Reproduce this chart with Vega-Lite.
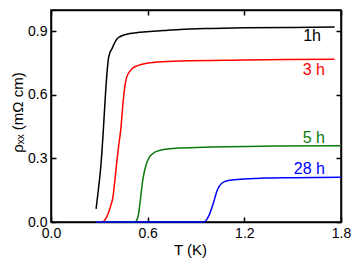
{
  "$schema": "https://vega.github.io/schema/vega-lite/v6.json",
  "width": 290,
  "height": 212,
  "autosize": "none",
  "padding": {"left": 51, "top": 10, "right": 13, "bottom": 37},
  "config": {
    "font": "Liberation Sans",
    "view": {"stroke": "black", "strokeWidth": 1.5},
    "axis": {
      "domainColor": "black",
      "domainWidth": 1.5,
      "ticks": true,
      "tickColor": "black",
      "tickWidth": 1.5,
      "tickSize": -5,
      "grid": false,
      "labelFlush": false,
      "labelFont": "Liberation Sans",
      "labelFontSize": 14,
      "labelColor": "black",
      "titleFont": "Liberation Sans",
      "titleFontSize": 15,
      "titleFontWeight": "normal",
      "titleColor": "black"
    }
  },
  "datasets": {
    "curves": [
      {"s": "1h", "T": 0.28, "rho": 0.062},
      {"s": "1h", "T": 0.294, "rho": 0.152},
      {"s": "1h", "T": 0.311, "rho": 0.278},
      {"s": "1h", "T": 0.325, "rho": 0.436},
      {"s": "1h", "T": 0.34, "rho": 0.626},
      {"s": "1h", "T": 0.356, "rho": 0.768},
      {"s": "1h", "T": 0.366, "rho": 0.8},
      {"s": "1h", "T": 0.377, "rho": 0.815},
      {"s": "1h", "T": 0.391, "rho": 0.839},
      {"s": "1h", "T": 0.408, "rho": 0.862},
      {"s": "1h", "T": 0.43, "rho": 0.875},
      {"s": "1h", "T": 0.47, "rho": 0.886},
      {"s": "1h", "T": 0.53, "rho": 0.893},
      {"s": "1h", "T": 0.594, "rho": 0.897},
      {"s": "1h", "T": 0.7, "rho": 0.903},
      {"s": "1h", "T": 0.8, "rho": 0.908},
      {"s": "1h", "T": 1.0, "rho": 0.913},
      {"s": "1h", "T": 1.2, "rho": 0.916},
      {"s": "1h", "T": 1.5, "rho": 0.918},
      {"s": "1h", "T": 1.76, "rho": 0.92},
      {"s": "3h", "T": 0.28, "rho": 0.0},
      {"s": "3h", "T": 0.32, "rho": 0.0},
      {"s": "3h", "T": 0.335, "rho": 0.01},
      {"s": "3h", "T": 0.355, "rho": 0.04},
      {"s": "3h", "T": 0.37, "rho": 0.075},
      {"s": "3h", "T": 0.385, "rho": 0.12},
      {"s": "3h", "T": 0.397, "rho": 0.2},
      {"s": "3h", "T": 0.408, "rho": 0.28},
      {"s": "3h", "T": 0.42, "rho": 0.36},
      {"s": "3h", "T": 0.433, "rho": 0.436},
      {"s": "3h", "T": 0.449, "rho": 0.578},
      {"s": "3h", "T": 0.466, "rho": 0.673},
      {"s": "3h", "T": 0.49, "rho": 0.712},
      {"s": "3h", "T": 0.511, "rho": 0.728},
      {"s": "3h", "T": 0.542, "rho": 0.739},
      {"s": "3h", "T": 0.594, "rho": 0.749},
      {"s": "3h", "T": 0.719, "rho": 0.757},
      {"s": "3h", "T": 0.8, "rho": 0.76},
      {"s": "3h", "T": 1.2, "rho": 0.764},
      {"s": "3h", "T": 1.76, "rho": 0.768},
      {"s": "5h", "T": 0.28, "rho": 0.0},
      {"s": "5h", "T": 0.52, "rho": 0.0},
      {"s": "5h", "T": 0.54, "rho": 0.025},
      {"s": "5h", "T": 0.557, "rho": 0.12},
      {"s": "5h", "T": 0.57, "rho": 0.2},
      {"s": "5h", "T": 0.594, "rho": 0.278},
      {"s": "5h", "T": 0.61, "rho": 0.305},
      {"s": "5h", "T": 0.625, "rho": 0.318},
      {"s": "5h", "T": 0.677, "rho": 0.338},
      {"s": "5h", "T": 0.8, "rho": 0.349},
      {"s": "5h", "T": 1.0, "rho": 0.354},
      {"s": "5h", "T": 1.4, "rho": 0.358},
      {"s": "5h", "T": 1.8, "rho": 0.36},
      {"s": "28h", "T": 0.28, "rho": 0.0},
      {"s": "28h", "T": 0.95, "rho": 0.0},
      {"s": "28h", "T": 0.977, "rho": 0.025},
      {"s": "28h", "T": 1.008, "rho": 0.09},
      {"s": "28h", "T": 1.033, "rho": 0.152},
      {"s": "28h", "T": 1.06, "rho": 0.183},
      {"s": "28h", "T": 1.1, "rho": 0.196},
      {"s": "28h", "T": 1.174, "rho": 0.202},
      {"s": "28h", "T": 1.317, "rho": 0.207},
      {"s": "28h", "T": 1.5, "rho": 0.209},
      {"s": "28h", "T": 1.8, "rho": 0.211}
    ],
    "labels": [
      {"s": "1h", "label": "1h", "T": 1.676, "rho": 0.855},
      {"s": "3h", "label": "3 h", "T": 1.7, "rho": 0.693},
      {"s": "5h", "label": "5 h", "T": 1.7, "rho": 0.371},
      {"s": "28h", "label": "28 h", "T": 1.7, "rho": 0.225}
    ]
  },
  "layer": [
    {
      "data": {"name": "curves"},
      "mark": {"type": "line", "strokeWidth": 1.5, "interpolate": "monotone"},
      "encoding": {
        "x": {
          "field": "T", "type": "quantitative",
          "scale": {"domain": [0, 1.8], "nice": false, "zero": false},
          "axis": {"orient": "bottom", "values": [0, 0.6, 1.2, 1.8], "format": ".1f", "title": "T (K)", "tickSize": -5, "labelPadding": 9, "titlePadding": 2, "titleX": 139}
        },
        "y": {
          "field": "rho", "type": "quantitative",
          "scale": {"domain": [0, 1.0], "nice": false},
          "axis": {"orient": "left", "values": [0, 0.3, 0.6, 0.9], "format": ".1f", "title": "ρₓₓ (mΩ cm)", "tickSize": -5, "labelPadding": 9, "titlePadding": 2, "titleY": 102}
        },
        "color": {
          "field": "s", "type": "nominal",
          "scale": {"domain": ["1h", "3h", "5h", "28h"], "range": ["#000000", "#ff0000", "#0a7a0a", "#0000ff"]},
          "legend": null
        }
      }
    },
    {
      "data": {"name": "labels"},
      "mark": {"type": "text", "align": "right", "baseline": "alphabetic", "fontSize": 16, "font": "Liberation Sans"},
      "encoding": {
        "x": {
          "field": "T", "type": "quantitative",
          "scale": {"domain": [0, 1.8], "nice": false, "zero": false},
          "axis": {"orient": "top", "values": [0, 0.6, 1.2, 1.8], "labels": false, "title": null, "tickSize": -5}
        },
        "y": {
          "field": "rho", "type": "quantitative",
          "scale": {"domain": [0, 1.0], "nice": false},
          "axis": {"orient": "right", "values": [0, 0.3, 0.6, 0.9], "labels": false, "title": null, "tickSize": -5}
        },
        "text": {"field": "label"},
        "color": {
          "field": "s", "type": "nominal",
          "scale": {"domain": ["1h", "3h", "5h", "28h"], "range": ["#000000", "#ff0000", "#0a7a0a", "#0000ff"]},
          "legend": null
        }
      }
    }
  ],
  "resolve": {"axis": {"x": "independent", "y": "independent"}}
}
